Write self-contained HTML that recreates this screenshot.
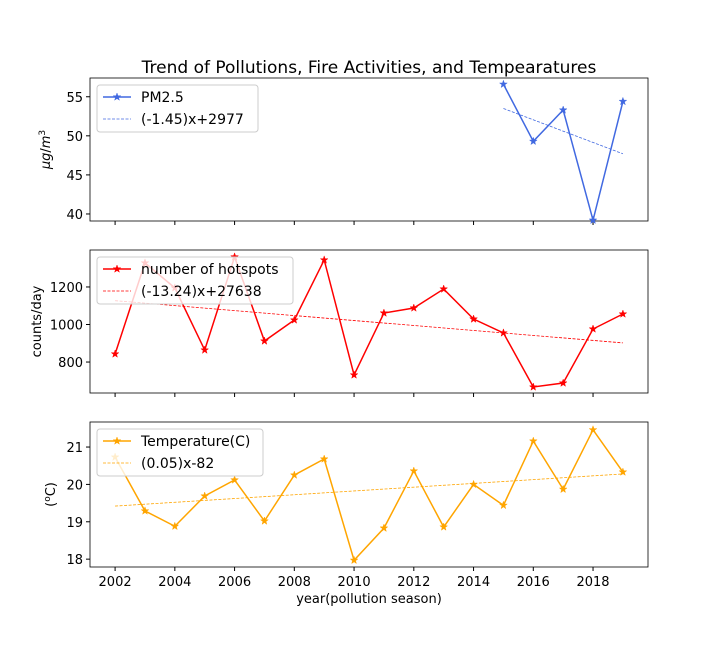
<!DOCTYPE html>
<html><head><meta charset="utf-8"><style>
body{margin:0;background:#fff;font-family:"Liberation Sans","DejaVu Sans",sans-serif}
svg text{font-family:"DejaVu Sans","Liberation Sans",sans-serif}
</style></head><body>
<svg id="c" width="720" height="648" xmlns="http://www.w3.org/2000/svg">
<text x="369" y="73" font-size="17" text-anchor="middle">Trend of Pollutions, Fire Activities, and Tempearatures</text>
</svg>
<script>
const years=[2002,2003,2004,2005,2006,2007,2008,2009,2010,2011,2012,2013,2014,2015,2016,2017,2018,2019];
const pmYears=[2015,2016,2017,2018,2019];
const pmValues=[56.6,49.3,53.3,39.2,54.4];
const hotspotValues=[843,1328,1195,864,1360,912,1024,1344,731,1061,1088,1189,1029,955,667,688,976,1056];
const tempValues=[20.73,19.29,18.88,19.69,20.12,19.02,20.25,20.68,17.97,18.83,20.36,18.86,20.0,19.44,21.16,19.87,21.46,20.33];
const xTicks=[2002,2004,2006,2008,2010,2012,2014,2016,2018];
const pmTicks=[40,45,50,55];
const hotTicks=[800,1000,1200];
const tempTicks=[18,19,20,21];
const pmTrend=[53.5,47.7];
const hotTrend=[1127,902];
const tempTrend=[19.42,20.28];
const svg=document.getElementById('c');
const NS='http://www.w3.org/2000/svg';
function mk(t,a,p){const e=document.createElementNS(NS,t);for(const k in a)e.setAttribute(k,a[k]);(p||svg).appendChild(e);return e;}
const L=90,R=648;
const xs=y=>L+(y-2001.16)/(2019.84-2001.16)*(R-L);
function star(g,x,y,c){let p=[];for(let i=0;i<10;i++){const r=i%2?1.6:4;const a=-Math.PI/2+i*Math.PI/5;p.push((x+r*Math.cos(a)).toFixed(1)+','+(y+r*Math.sin(a)).toFixed(1));}
const s=mk('polygon',{points:p.join(' '),fill:c,stroke:c,'stroke-width':0.5},g);

}
function panel(name,top,bot,y0,y1,xv,vals,ticks,trend,color,ylab,ylx,leg1,leg2,showX,lw){
 const g=mk('g',{});
 
 
 const ys=v=>bot-(v-y0)/(y1-y0)*(bot-top);
 mk('rect',{x:L,y:top,width:R-L,height:bot-top,fill:'none',stroke:'#000','stroke-width':0.8},g);
 ticks.forEach(t=>{const y=ys(t);mk('line',{x1:L-4,x2:L,y1:y,y2:y,stroke:'#000'},g);
  const tx=mk('text',{x:L-7,y:y+5,'font-size':13,'text-anchor':'end'},g);tx.textContent=t;
  });
 xTicks.forEach(t=>{const x=xs(t);mk('line',{x1:x,x2:x,y1:bot,y2:bot+4,stroke:'#000'},g);
  if(showX){const tx=mk('text',{x:x,y:bot+19,'font-size':13,'text-anchor':'middle'},g);tx.textContent=t;
  }});
 const yl=mk('text',{transform:`translate(${ylx},${(top+bot)/2}) rotate(-90)`,'font-size':13,'text-anchor':'middle'},g);
 yl.innerHTML=ylab;
 const tl=mk('line',{x1:xs(xv[0]),y1:ys(trend[0]),x2:xs(xv[xv.length-1]),y2:ys(trend[1]),stroke:color,'stroke-width':0.8,'stroke-dasharray':'3,1.5'},g);
 
 const pl=mk('polyline',{points:xv.map((y,i)=>xs(y)+','+ys(vals[i])).join(' '),fill:'none',stroke:color,'stroke-width':1.5},g);
 
 xv.forEach((y,i)=>star(g,xs(y),ys(vals[i]),color));
 const lg=mk('g',{},g);
 mk('rect',{x:L+7,y:top+7,width:lw,height:47,rx:3,fill:'#fff','fill-opacity':0.8,stroke:'#ccc'},lg);
 mk('line',{x1:L+13,x2:L+41,y1:top+19,y2:top+19,stroke:color,'stroke-width':1.5},lg);star(lg,L+27,top+19,color);
 mk('line',{x1:L+13,x2:L+41,y1:top+41,y2:top+41,stroke:color,'stroke-width':0.8,'stroke-dasharray':'3,1.5'},lg);
 let t1=mk('text',{x:L+51,y:top+24,'font-size':14},lg);t1.textContent=leg1;
 let t2=mk('text',{x:L+51,y:top+46,'font-size':14},lg);t2.textContent=leg2;
}
panel('pm25',78,221,39.1,57.4,pmYears,pmValues,pmTicks,pmTrend,'#4169e1','<tspan font-style="italic">μg</tspan>/<tspan font-style="italic">m</tspan><tspan font-size="9" dy="-5">3</tspan>',50,'PM2.5','(-1.45)x+2977',false,161);
panel('hotspots',250,393,635,1397,years,hotspotValues,hotTicks,hotTrend,'#ff0000','counts/day',41,'number of hotspots','(-13.24)x+27638',false,196);
panel('temperature',422,567,17.79,21.67,years,tempValues,tempTicks,tempTrend,'#ffa500','(<tspan font-size="9" dy="-5">o</tspan><tspan dy="5">C)</tspan>',55,'Temperature(C)','(0.05)x-82',true,166);
const xl=mk('text',{x:369,y:603,'font-size':13,'text-anchor':'middle'});xl.textContent='year(pollution season)';


</script>
</body></html>
